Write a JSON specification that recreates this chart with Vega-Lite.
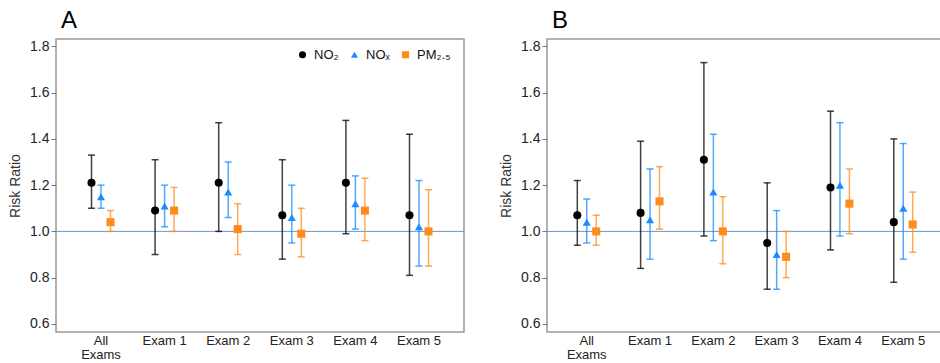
{
  "$schema": "https://vega.github.io/schema/vega-lite/v6.json",
  "padding": {"left": 7, "top": 8, "right": 0, "bottom": 0},
  "config": {
    "font": "Liberation Sans",
    "view": {"stroke": "#999999", "strokeWidth": 1.5},
    "axis": {"labelFont": "Liberation Sans", "labelFontSize": 14, "labelColor": "#222222", "titleFont": "Liberation Sans", "titleFontSize": 14, "titleFontWeight": "normal", "titleColor": "#333333", "grid": false, "domain": false, "tickColor": "#777777"},
    "title": {"font": "Liberation Sans", "fontSize": 24, "fontWeight": "normal", "anchor": "start", "frame": "group", "color": "#000000"},
    "concat": {"spacing": 32}
  },
  "datasets": {
    "a": [
      {"exam": "All Exams", "pollutant": "NO₂", "rr": 1.21, "lo": 1.10, "hi": 1.33},
      {"exam": "All Exams", "pollutant": "NOₓ", "rr": 1.15, "lo": 1.10, "hi": 1.20},
      {"exam": "All Exams", "pollutant": "PM₂.₅", "rr": 1.04, "lo": 1.00, "hi": 1.09},
      {"exam": "Exam 1", "pollutant": "NO₂", "rr": 1.09, "lo": 0.90, "hi": 1.31},
      {"exam": "Exam 1", "pollutant": "NOₓ", "rr": 1.11, "lo": 1.02, "hi": 1.20},
      {"exam": "Exam 1", "pollutant": "PM₂.₅", "rr": 1.09, "lo": 1.00, "hi": 1.19},
      {"exam": "Exam 2", "pollutant": "NO₂", "rr": 1.21, "lo": 1.00, "hi": 1.47},
      {"exam": "Exam 2", "pollutant": "NOₓ", "rr": 1.17, "lo": 1.06, "hi": 1.30},
      {"exam": "Exam 2", "pollutant": "PM₂.₅", "rr": 1.01, "lo": 0.90, "hi": 1.12},
      {"exam": "Exam 3", "pollutant": "NO₂", "rr": 1.07, "lo": 0.88, "hi": 1.31},
      {"exam": "Exam 3", "pollutant": "NOₓ", "rr": 1.06, "lo": 0.95, "hi": 1.20},
      {"exam": "Exam 3", "pollutant": "PM₂.₅", "rr": 0.99, "lo": 0.89, "hi": 1.10},
      {"exam": "Exam 4", "pollutant": "NO₂", "rr": 1.21, "lo": 0.99, "hi": 1.48},
      {"exam": "Exam 4", "pollutant": "NOₓ", "rr": 1.12, "lo": 1.01, "hi": 1.24},
      {"exam": "Exam 4", "pollutant": "PM₂.₅", "rr": 1.09, "lo": 0.96, "hi": 1.23},
      {"exam": "Exam 5", "pollutant": "NO₂", "rr": 1.07, "lo": 0.81, "hi": 1.42},
      {"exam": "Exam 5", "pollutant": "NOₓ", "rr": 1.02, "lo": 0.85, "hi": 1.22},
      {"exam": "Exam 5", "pollutant": "PM₂.₅", "rr": 1.00, "lo": 0.85, "hi": 1.18}
    ],
    "b": [
      {"exam": "All Exams", "pollutant": "NO₂", "rr": 1.07, "lo": 0.94, "hi": 1.22},
      {"exam": "All Exams", "pollutant": "NOₓ", "rr": 1.04, "lo": 0.95, "hi": 1.14},
      {"exam": "All Exams", "pollutant": "PM₂.₅", "rr": 1.00, "lo": 0.94, "hi": 1.07},
      {"exam": "Exam 1", "pollutant": "NO₂", "rr": 1.08, "lo": 0.84, "hi": 1.39},
      {"exam": "Exam 1", "pollutant": "NOₓ", "rr": 1.05, "lo": 0.88, "hi": 1.27},
      {"exam": "Exam 1", "pollutant": "PM₂.₅", "rr": 1.13, "lo": 1.01, "hi": 1.28},
      {"exam": "Exam 2", "pollutant": "NO₂", "rr": 1.31, "lo": 0.98, "hi": 1.73},
      {"exam": "Exam 2", "pollutant": "NOₓ", "rr": 1.17, "lo": 0.96, "hi": 1.42},
      {"exam": "Exam 2", "pollutant": "PM₂.₅", "rr": 1.00, "lo": 0.86, "hi": 1.15},
      {"exam": "Exam 3", "pollutant": "NO₂", "rr": 0.95, "lo": 0.75, "hi": 1.21},
      {"exam": "Exam 3", "pollutant": "NOₓ", "rr": 0.90, "lo": 0.75, "hi": 1.09},
      {"exam": "Exam 3", "pollutant": "PM₂.₅", "rr": 0.89, "lo": 0.80, "hi": 1.00},
      {"exam": "Exam 4", "pollutant": "NO₂", "rr": 1.19, "lo": 0.92, "hi": 1.52},
      {"exam": "Exam 4", "pollutant": "NOₓ", "rr": 1.20, "lo": 0.98, "hi": 1.47},
      {"exam": "Exam 4", "pollutant": "PM₂.₅", "rr": 1.12, "lo": 0.99, "hi": 1.27},
      {"exam": "Exam 5", "pollutant": "NO₂", "rr": 1.04, "lo": 0.78, "hi": 1.40},
      {"exam": "Exam 5", "pollutant": "NOₓ", "rr": 1.10, "lo": 0.88, "hi": 1.38},
      {"exam": "Exam 5", "pollutant": "PM₂.₅", "rr": 1.03, "lo": 0.91, "hi": 1.17}
    ]
  },
  "hconcat": [
    {
      "title": {"text": "A", "dx": 5, "offset": 6},
      "width": 408,
      "height": 293,
      "data": {"name": "a"},
      "layer": [
        {
          "data": {"values": [{}]},
          "mark": {"type": "rule", "stroke": "#6f98c8", "strokeWidth": 1},
          "encoding": {
            "y": {"datum": 1, "type": "quantitative", "scale": {"domain": [0.565, 1.832], "nice": false, "zero": false},
              "axis": {"title": "Risk Ratio", "values": [0.6, 0.8, 1.0, 1.2, 1.4, 1.6, 1.8], "format": ".1f", "tickSize": 5, "labelPadding": 2, "titlePadding": 7}}
          }
        },
        {
          "mark": {"type": "rule", "strokeWidth": 1.5, "opacity": 0.75},
          "encoding": {
            "x": {"field": "exam", "type": "nominal", "sort": null, "scale": {"paddingInner": 0.552, "paddingOuter": 0.4835},
              "axis": {"title": null, "labelAngle": 0, "ticks": false, "labelFontSize": 13, "labelPadding": 2, "labelLineHeight": 14, "labelExpr": "datum.value == 'All Exams' ? ['All', 'Exams'] : datum.value"}},
            "xOffset": {"field": "pollutant", "type": "nominal", "scale": {"domain": ["NO₂", "NOₓ", "PM₂.₅"], "paddingInner": 0, "paddingOuter": 0}},
            "y": {"field": "lo", "type": "quantitative"},
            "y2": {"field": "hi"},
            "stroke": {"field": "pollutant", "type": "nominal", "scale": {"range": ["#000000", "#1a8cff", "#ff8c1a"]}, "legend": null}
          }
        },
        {
          "mark": {"type": "tick", "size": 7, "thickness": 1.5, "opacity": 0.75},
          "encoding": {
            "x": {"field": "exam", "type": "nominal", "sort": null},
            "xOffset": {"field": "pollutant", "type": "nominal"},
            "y": {"field": "lo", "type": "quantitative"},
            "fill": {"field": "pollutant", "type": "nominal", "scale": {"range": ["#000000", "#1a8cff", "#ff8c1a"]}, "legend": null}
          }
        },
        {
          "mark": {"type": "tick", "size": 7, "thickness": 1.5, "opacity": 0.75},
          "encoding": {
            "x": {"field": "exam", "type": "nominal", "sort": null},
            "xOffset": {"field": "pollutant", "type": "nominal"},
            "y": {"field": "hi", "type": "quantitative"},
            "fill": {"field": "pollutant", "type": "nominal", "legend": null}
          }
        },
        {
          "mark": {"type": "point", "filled": true, "opacity": 1, "size": 65},
          "encoding": {
            "x": {"field": "exam", "type": "nominal", "sort": null},
            "xOffset": {"field": "pollutant", "type": "nominal"},
            "y": {"field": "rr", "type": "quantitative"},
            "color": {"field": "pollutant", "type": "nominal", "scale": {"domain": ["NO₂", "NOₓ", "PM₂.₅"], "range": ["#000000", "#1a8cff", "#ff8c1a"]},
              "legend": {"title": null, "orient": "none", "legendX": 240, "legendY": 9, "direction": "horizontal", "labelFont": "Liberation Sans", "labelFontSize": 13, "labelColor": "#111111", "symbolSize": 50, "columnPadding": 9, "labelOffset": 5, "symbolStrokeWidth": 0}},
            "shape": {"field": "pollutant", "type": "nominal", "scale": {"domain": ["NO₂", "NOₓ", "PM₂.₅"], "range": ["circle", "triangle-up", "square"]},
              "legend": {"title": null, "orient": "none", "legendX": 240, "legendY": 9, "direction": "horizontal", "labelFont": "Liberation Sans", "labelFontSize": 13, "labelColor": "#111111", "symbolSize": 50, "columnPadding": 9, "labelOffset": 5, "symbolStrokeWidth": 0}}
          }
        }
      ]
    },
    {
      "title": {"text": "B", "dx": 5, "offset": 6},
      "width": 396,
      "height": 293,
      "data": {"name": "b"},
      "layer": [
        {
          "data": {"values": [{}]},
          "mark": {"type": "rule", "stroke": "#6f98c8", "strokeWidth": 1},
          "encoding": {
            "y": {"datum": 1, "type": "quantitative", "scale": {"domain": [0.565, 1.832], "nice": false, "zero": false},
              "axis": {"title": "Risk Ratio", "values": [0.6, 0.8, 1.0, 1.2, 1.4, 1.6, 1.8], "format": ".1f", "tickSize": 5, "labelPadding": 2, "titlePadding": 7}}
          }
        },
        {
          "mark": {"type": "rule", "strokeWidth": 1.5, "opacity": 0.75},
          "encoding": {
            "x": {"field": "exam", "type": "nominal", "sort": null, "scale": {"paddingInner": 0.552, "paddingOuter": 0.404},
              "axis": {"title": null, "labelAngle": 0, "ticks": false, "labelFontSize": 13, "labelPadding": 2, "labelLineHeight": 14, "labelExpr": "datum.value == 'All Exams' ? ['All', 'Exams'] : datum.value"}},
            "xOffset": {"field": "pollutant", "type": "nominal", "scale": {"domain": ["NO₂", "NOₓ", "PM₂.₅"], "paddingInner": 0, "paddingOuter": 0}},
            "y": {"field": "lo", "type": "quantitative"},
            "y2": {"field": "hi"},
            "stroke": {"field": "pollutant", "type": "nominal", "scale": {"range": ["#000000", "#1a8cff", "#ff8c1a"]}, "legend": null}
          }
        },
        {
          "mark": {"type": "tick", "size": 7, "thickness": 1.5, "opacity": 0.75},
          "encoding": {
            "x": {"field": "exam", "type": "nominal", "sort": null},
            "xOffset": {"field": "pollutant", "type": "nominal"},
            "y": {"field": "lo", "type": "quantitative"},
            "fill": {"field": "pollutant", "type": "nominal", "scale": {"range": ["#000000", "#1a8cff", "#ff8c1a"]}, "legend": null}
          }
        },
        {
          "mark": {"type": "tick", "size": 7, "thickness": 1.5, "opacity": 0.75},
          "encoding": {
            "x": {"field": "exam", "type": "nominal", "sort": null},
            "xOffset": {"field": "pollutant", "type": "nominal"},
            "y": {"field": "hi", "type": "quantitative"},
            "fill": {"field": "pollutant", "type": "nominal", "legend": null}
          }
        },
        {
          "mark": {"type": "point", "filled": true, "opacity": 1, "size": 65},
          "encoding": {
            "x": {"field": "exam", "type": "nominal", "sort": null},
            "xOffset": {"field": "pollutant", "type": "nominal"},
            "y": {"field": "rr", "type": "quantitative"},
            "color": {"field": "pollutant", "type": "nominal", "scale": {"domain": ["NO₂", "NOₓ", "PM₂.₅"], "range": ["#000000", "#1a8cff", "#ff8c1a"]}, "legend": null},
            "shape": {"field": "pollutant", "type": "nominal", "scale": {"domain": ["NO₂", "NOₓ", "PM₂.₅"], "range": ["circle", "triangle-up", "square"]}, "legend": null}
          }
        }
      ]
    }
  ],
  "resolve": {"scale": {"color": "independent", "shape": "independent", "stroke": "independent", "fill": "independent", "x": "independent", "xOffset": "independent"}, "legend": {"color": "independent", "shape": "independent", "stroke": "independent", "fill": "independent"}}
}
